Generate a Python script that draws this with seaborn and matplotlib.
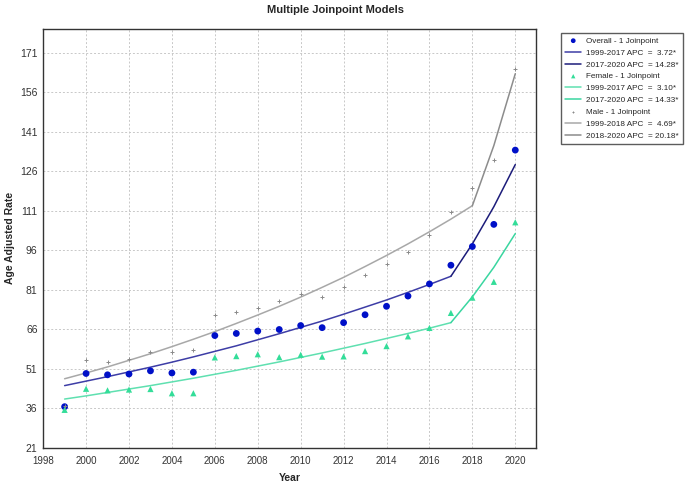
import pandas as pd
import matplotlib.pyplot as plt
import seaborn as sns

# Datos
years = list(range(1999, 2021))

overall_obs = [36.6, 49.2, 48.7, 49.0, 50.2, 49.4, 49.7, 63.6, 64.4, 65.3, 65.9, 67.4,
               66.6, 68.5, 71.5, 74.7, 78.6, 83.2, 90.3, 97.4, 105.8, 134.0]
female_obs = [35.4, 43.4, 42.8, 43.1, 43.3, 41.7, 41.7, 55.3, 55.8, 56.5, 55.4, 56.3,
              55.6, 55.7, 57.7, 59.6, 63.3, 66.5, 72.2, 78.0, 84.0, 106.6]
male_obs = [37.0, 54.4, 53.6, 54.8, 57.4, 57.4, 58.1, 71.3, 72.5, 74.1, 76.7, 79.2,
            78.2, 82.2, 86.7, 90.9, 95.5, 101.7, 110.5, 119.5, 130.4, 164.9]

overall_fit = [44.6, 46.3, 48.0, 49.8, 51.6, 53.5, 55.5, 57.6, 59.7, 62.0, 64.3, 66.7,
               69.1, 71.7, 74.4, 77.1, 80.0, 83.0, 86.1, 98.4, 112.5, 128.5]
female_fit = [39.5, 40.7, 42.0, 43.3, 44.6, 46.0, 47.4, 48.9, 50.4, 52.0, 53.6, 55.3,
              57.0, 58.8, 60.6, 62.5, 64.4, 66.4, 68.5, 78.3, 89.5, 102.3]
male_fit = [47.2, 49.4, 51.7, 54.2, 56.7, 59.4, 62.2, 65.1, 68.2, 71.4, 74.7, 78.2,
            81.9, 85.7, 89.8, 94.0, 98.4, 103.0, 107.8, 112.9, 135.7, 163.0]

joinpoint_overall = 2017
joinpoint_female = 2017
joinpoint_male = 2018

y_ticks = [21, 36, 51, 66, 81, 96, 111, 126, 141, 156, 171]
x_ticks = list(range(1998, 2021, 2))

sns.set_theme(style="white")
plt.rcParams['font.family'] = ['Liberation Sans', 'DejaVu Sans']

df = pd.DataFrame({
    "Year": years,
    "overall": overall_obs, "female": female_obs, "male": male_obs,
    "overall_fit": overall_fit, "female_fit": female_fit, "male_fit": male_fit,
})

fig = plt.figure(figsize=(6.85, 4.82), dpi=100)
ax = fig.add_axes([0.063, 0.071, 0.719, 0.869])

# Colores
c_ov_pt, c_ov_l1, c_ov_l2 = "#0010c8", "#3d3da6", "#1c1c7a"
c_fe_pt, c_fe_l1, c_fe_l2 = "#33dd99", "#5fe0b0", "#3ad6a0"
c_ma_pt, c_ma_l1, c_ma_l2 = "#8a8a8a", "#a8a8a8", "#8c8c8c"


def segmentos(col, jp, c1, c2, lab1, lab2):
    d1 = df[df["Year"] <= jp]
    d2 = df[df["Year"] >= jp]
    sns.lineplot(data=d1, x="Year", y=col, ax=ax, color=c1, lw=1.1, label=lab1)
    sns.lineplot(data=d2, x="Year", y=col, ax=ax, color=c2, lw=1.1, label=lab2)


sns.scatterplot(data=df, x="Year", y="overall", ax=ax, color=c_ov_pt, marker="o",
                s=24, edgecolor="none", label="Overall - 1 Joinpoint", zorder=5)
segmentos("overall_fit", joinpoint_overall, c_ov_l1, c_ov_l2,
          "1999-2017 APC  =  3.72*", "2017-2020 APC  = 14.28*")
sns.scatterplot(data=df, x="Year", y="female", ax=ax, color=c_fe_pt, marker="^",
                s=20, edgecolor="none", label="Female - 1 Joinpoint", zorder=5)
segmentos("female_fit", joinpoint_female, c_fe_l1, c_fe_l2,
          "1999-2017 APC  =  3.10*", "2017-2020 APC  = 14.33*")
sns.scatterplot(data=df, x="Year", y="male", ax=ax, color=c_ma_pt, marker="+",
                s=8, linewidth=0.7, label="Male - 1 Joinpoint", zorder=5)
segmentos("male_fit", joinpoint_male, c_ma_l1, c_ma_l2,
          "1999-2018 APC  =  4.69*", "2018-2020 APC  = 20.18*")

ax.set_xlim(1998, 2020.95)
ax.set_ylim(21, 180)
ax.set_xticks(x_ticks)
ax.set_yticks(y_ticks)
ax.tick_params(axis="y", labelsize=7.5, length=0, pad=4, colors="#333333")
ax.tick_params(axis="x", labelsize=7, length=0, pad=6, colors="#333333")
ax.grid(True, ls=(0, (2, 2)), color="#c8c8c8", lw=0.7)
for s in ax.spines.values():
    s.set_color("#333333")
    s.set_linewidth(1.0)

ax.set_xlabel("Year", fontsize=7.5, fontweight="bold", labelpad=5)
ax.set_ylabel("Age Adjusted Rate", fontsize=7.5, fontweight="bold", labelpad=4)
fig.suptitle("Multiple Joinpoint Models", x=0.49, y=0.99, fontsize=8,
             fontweight="bold")

leg = ax.legend(loc="upper left", bbox_to_anchor=(1.043, 1.0), fontsize=5.9,
                frameon=True, fancybox=False, edgecolor="#333333",
                handlelength=2.0, handletextpad=0.6, labelspacing=0.5,
                borderpad=0.5, markerscale=0.7)
leg.get_frame().set_linewidth(1.0)

plt.savefig("out.png", dpi=100)
plt.close()
